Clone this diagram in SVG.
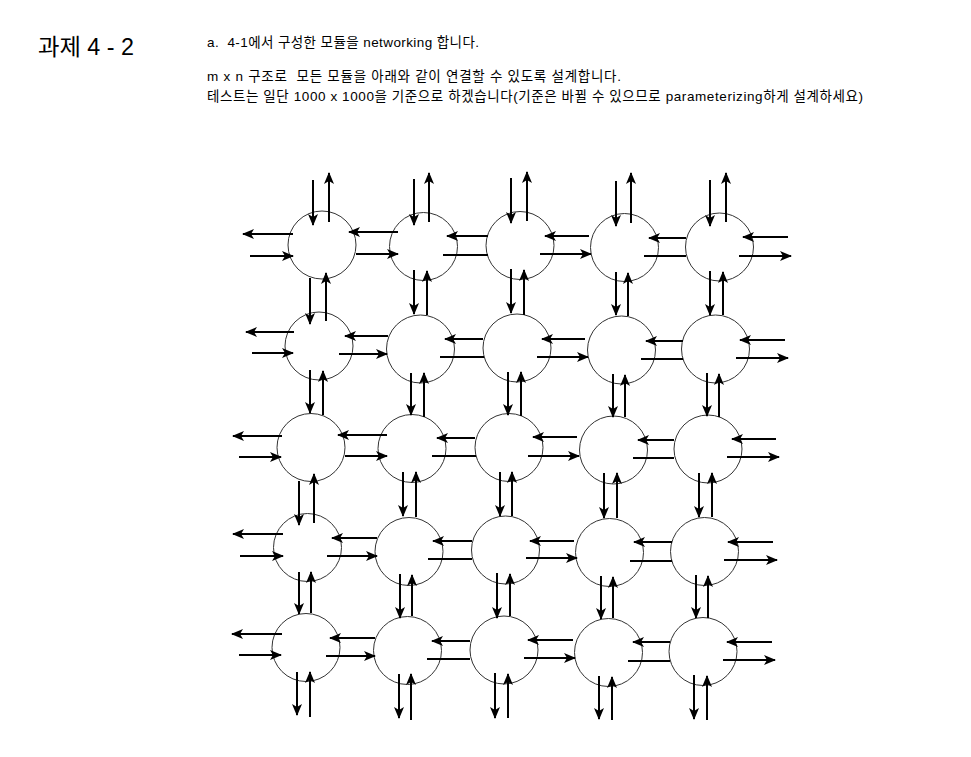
<svg xmlns="http://www.w3.org/2000/svg" width="971" height="757" viewBox="0 0 971 757">
<style>
.t{font-family:"Liberation Sans","Noto Sans CJK KR",sans-serif;fill:#000}
.n{fill:#fff;stroke:#333;stroke-width:1}
.c path{fill:none;stroke:#000;stroke-width:2}
.c path.a{marker-end:url(#ah)}
</style>
<defs>
<marker id="ah" markerUnits="userSpaceOnUse" markerWidth="14" markerHeight="12" viewBox="0 0 14 12" refX="12" refY="6" orient="auto">
<path d="M1,1 L13,6 L1,11 L4,6 Z" fill="#000"/>
</marker>
</defs>
<rect width="971" height="757" fill="#fff"/>
<g id="texts">
<text class="t" x="38" y="55" font-size="23" textLength="96" lengthAdjust="spacingAndGlyphs">과제 4 - 2</text>
<text class="t" x="207" y="47" font-size="13.5" xml:space="preserve" textLength="272" lengthAdjust="spacing">a.  4-1에서 구성한 모듈을 networking 합니다.</text>
<text class="t" x="207" y="81" font-size="13.5" xml:space="preserve" textLength="414" lengthAdjust="spacing">m x n 구조로  모든 모듈을 아래와 같이 연결할 수 있도록 설계합니다.</text>
<text class="t" x="207" y="101" font-size="13.5" xml:space="preserve" textLength="656" lengthAdjust="spacing">테스트는 일단 1000 x 1000을 기준으로 하겠습니다(기준은 바뀔 수 있으므로 parameterizing하게 설계하세요)</text>
</g>
<g id="n00"><circle class="n" cx="322" cy="245" r="34"/></g>
<g id="n01"><circle class="n" cx="423.5" cy="246.5" r="34"/></g>
<g id="n02"><circle class="n" cx="520" cy="245.5" r="34"/></g>
<g id="n03"><circle class="n" cx="624.5" cy="247.5" r="34"/></g>
<g id="n04"><circle class="n" cx="719.5" cy="247" r="34"/></g>
<g id="n10"><circle class="n" cx="319" cy="346" r="34"/></g>
<g id="n11"><circle class="n" cx="420.5" cy="349" r="34"/></g>
<g id="n12"><circle class="n" cx="517" cy="348" r="34"/></g>
<g id="n13"><circle class="n" cx="621.5" cy="350" r="34"/></g>
<g id="n14"><circle class="n" cx="715.5" cy="349" r="34"/></g>
<g id="n20"><circle class="n" cx="311" cy="447.5" r="34"/></g>
<g id="n21"><circle class="n" cx="412" cy="448.5" r="34"/></g>
<g id="n22"><circle class="n" cx="509" cy="447.5" r="34"/></g>
<g id="n23"><circle class="n" cx="613.5" cy="450" r="34"/></g>
<g id="n24"><circle class="n" cx="708" cy="449" r="34"/></g>
<g id="n30"><circle class="n" cx="307.5" cy="547.5" r="34"/></g>
<g id="n31"><circle class="n" cx="409" cy="551.5" r="34"/></g>
<g id="n32"><circle class="n" cx="505.5" cy="550" r="34"/></g>
<g id="n33"><circle class="n" cx="609.5" cy="552.5" r="34"/></g>
<g id="n34"><circle class="n" cx="704.5" cy="551.5" r="34"/></g>
<g id="n40"><circle class="n" cx="306" cy="647.5" r="34"/></g>
<g id="n41"><circle class="n" cx="407.5" cy="650.5" r="34"/></g>
<g id="n42"><circle class="n" cx="504" cy="650" r="34"/></g>
<g id="n43"><circle class="n" cx="608.5" cy="652.5" r="34"/></g>
<g id="n44"><circle class="n" cx="703" cy="651.5" r="34"/></g>
<g id="connectors" class="c">
<!-- top boundary -->
<path class="a" d="M313 180L313 225"/><path class="a" d="M329 222L329 173"/>
<path class="a" d="M414 179L414 225"/><path class="a" d="M429 222L429 173"/>
<path class="a" d="M511 178L511 223"/><path class="a" d="M527 221L527 172"/>
<path class="a" d="M616 181L616 226"/><path class="a" d="M631 223L631 173"/>
<path class="a" d="M710 180L710 226"/><path class="a" d="M726 222L726 173"/>
<!-- row 0 -->
<path class="a" d="M293 234L243 234"/><path class="a" d="M250 256L293 256"/>
<path class="a" d="M398 232L349 232"/><path class="a" d="M356 254L398 254"/>
<path class="a" d="M488 236L447 236"/><path d="M443 255L488 255"/>
<path class="a" d="M589 236L545 236"/><path class="a" d="M540 254L591 254"/>
<path class="a" d="M686 238L649 238"/><path d="M644 256L686 256"/>
<path class="a" d="M788 237L743 237"/><path class="a" d="M739 256L791 256"/>
<!-- rows 0-1 -->
<path class="a" d="M310 278L310 324"/><path class="a" d="M326 321L326 273"/>
<path class="a" d="M414 270L414 314"/><path class="a" d="M427 315L427 271"/>
<path class="a" d="M511 269L511 313"/><path class="a" d="M524 315L524 270"/>
<path class="a" d="M616 272L616 315"/><path class="a" d="M628 316L628 273"/>
<path class="a" d="M710 271L710 315"/><path class="a" d="M723 315L723 272"/>
<!-- row 1 -->
<path class="a" d="M294 332L246 332"/><path class="a" d="M252 353L293 353"/>
<path class="a" d="M388 336L345 336"/><path class="a" d="M339 354L387 354"/>
<path class="a" d="M483 339L445 339"/><path d="M440 357L484 357"/>
<path class="a" d="M585 339L542 339"/><path class="a" d="M537 357L588 357"/>
<path class="a" d="M683 341L646 341"/><path d="M641 359L683 359"/>
<path class="a" d="M785 340L740 340"/><path class="a" d="M736 358L788 358"/>
<!-- rows 1-2 -->
<path class="a" d="M310 370L310 413"/><path class="a" d="M323 415L323 371"/>
<path class="a" d="M411 373L411 415"/><path class="a" d="M424 417L424 373"/>
<path class="a" d="M508 372L508 415"/><path class="a" d="M521 416L521 372"/>
<path class="a" d="M613 374L613 417"/><path class="a" d="M625 417L625 375"/>
<path class="a" d="M707 373L707 416"/><path class="a" d="M719 417L719 374"/>
<!-- row 2 -->
<path class="a" d="M282 436L233 436"/><path class="a" d="M239 457L281 457"/>
<path class="a" d="M387 435L338 435"/><path class="a" d="M345 456L387 456"/>
<path class="a" d="M475 438L437 438"/><path d="M432 456L476 456"/>
<path class="a" d="M577 437L533 437"/><path class="a" d="M528 456L579 456"/>
<path class="a" d="M674 440L638 440"/><path d="M633 458L674 458"/>
<path class="a" d="M776 439L732 439"/><path class="a" d="M727 457L779 457"/>
<!-- rows 2-3 -->
<path class="a" d="M299 481L299 525"/><path class="a" d="M314 523L314 474"/>
<path class="a" d="M403 472L403 516"/><path class="a" d="M416 517L416 472"/>
<path class="a" d="M500 472L500 516"/><path class="a" d="M512 516L512 472"/>
<path class="a" d="M604 473L604 518"/><path class="a" d="M617 518L617 473"/>
<path class="a" d="M699 473L699 517"/><path class="a" d="M712 517L712 473"/>
<!-- row 3 -->
<path class="a" d="M283 534L233 534"/><path class="a" d="M240 556L283 556"/>
<path class="a" d="M377 538L332 538"/><path class="a" d="M327 556L377 556"/>
<path class="a" d="M472 541L433 541"/><path d="M428 559L472 559"/>
<path class="a" d="M574 541L530 541"/><path class="a" d="M526 558L577 558"/>
<path class="a" d="M672 542L634 542"/><path d="M630 561L672 561"/>
<path class="a" d="M773 542L728 542"/><path class="a" d="M724 560L777 560"/>
<!-- rows 3-4 -->
<path class="a" d="M299 572L299 614"/><path class="a" d="M311 613L311 572"/>
<path class="a" d="M400 574L400 618"/><path class="a" d="M412 616L412 575"/>
<path class="a" d="M497 573L497 618"/><path class="a" d="M510 616L510 574"/>
<path class="a" d="M601 576L601 619"/><path class="a" d="M613 618L613 577"/>
<path class="a" d="M696 575L696 618"/><path class="a" d="M708 618L708 576"/>
<!-- row 4 -->
<path class="a" d="M282 634L232 634"/><path class="a" d="M239 655L281 655"/>
<path class="a" d="M375 638L330 638"/><path class="a" d="M326 656L375 656"/>
<path class="a" d="M470 641L432 641"/><path d="M427 659L470 659"/>
<path class="a" d="M573 640L528 640"/><path class="a" d="M524 658L575 658"/>
<path class="a" d="M670 642L633 642"/><path d="M628 661L670 661"/>
<path class="a" d="M772 642L727 642"/><path class="a" d="M723 660L775 660"/>
<!-- bottom boundary -->
<path class="a" d="M297 672L297 715"/><path class="a" d="M310 717L310 672"/>
<path class="a" d="M399 674L399 718"/><path class="a" d="M411 720L411 674"/>
<path class="a" d="M495 673L495 718"/><path class="a" d="M508 718L508 674"/>
<path class="a" d="M599 676L599 719"/><path class="a" d="M612 720L612 677"/>
<path class="a" d="M694 675L694 719"/><path class="a" d="M707 720L707 676"/>
</g>
</svg>
